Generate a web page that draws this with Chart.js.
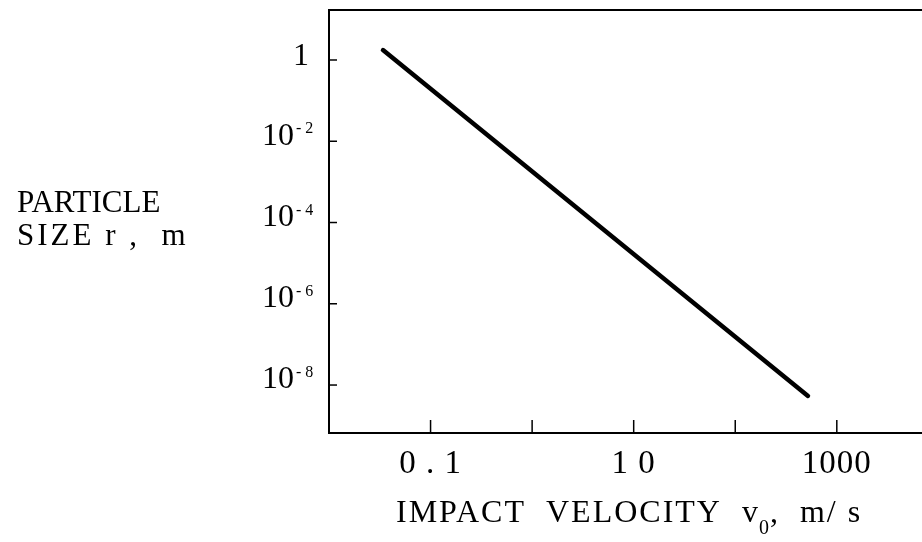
<!DOCTYPE html>
<html>
<head>
<meta charset="utf-8">
<script src="https://cdn.jsdelivr.net/npm/chart.js@4.4.1/dist/chart.umd.min.js"></script>
<style>
  html, body { margin: 0; background: #fff; }
</style>
</head>
<body>
<canvas id="chart" width="922" height="542"></canvas>
<script>
// data (log-log)
const velocity = [0.034, 520];          // m/s
const particleSize = [1.75, 5.4e-9];    // m

const xTicks = [0.1, 1, 10, 100, 1000];
const xTickLabels = ['0 . 1', '', '1 0', '', '1000'];
const yTicks = [1, 1e-2, 1e-4, 1e-6, 1e-8];
const yTickBases = ['1', '10', '10', '10', '10'];
const yTickExps = ['', '- 2', '- 4', '- 6', '- 8'];

const SERIF = '"Liberation Serif", "DejaVu Serif", serif';

// axes, ticks and labels drawn the way the old figure has them (inward ticks, superscripts)
const paperAxes = {
  id: 'paperAxes',
  afterDraw(chart) {
    const { ctx, chartArea: a, scales: { x, y } } = chart;
    ctx.save();
    ctx.strokeStyle = '#000';
    ctx.fillStyle = '#000';
    ctx.lineWidth = 2;
    ctx.beginPath();
    ctx.moveTo(a.right, a.top);
    ctx.lineTo(a.left, a.top);
    ctx.lineTo(a.left, a.bottom);
    ctx.lineTo(a.right, a.bottom);
    ctx.stroke();

    // y ticks
    ctx.lineWidth = 1.5;
    yTicks.forEach((v, i) => {
      const py = y.getPixelForValue(v);
      ctx.beginPath();
      ctx.moveTo(a.left, py);
      ctx.lineTo(a.left + 8, py);
      ctx.stroke();

      ctx.font = '32px ' + SERIF;
      ctx.textBaseline = 'middle';
      ctx.textAlign = 'right';
      if (!yTickExps[i]) {
        ctx.fillText(yTickBases[i], 309, py - 3);
      } else {
        ctx.fillText(yTickBases[i], 294, py - 5);
        ctx.font = '16px ' + SERIF;
        ctx.textAlign = 'left';
        ctx.textBaseline = 'top';
        ctx.fillText(yTickExps[i], 296, py - 20);
      }
    });

    // x ticks
    xTicks.forEach((v, i) => {
      const px = x.getPixelForValue(v);
      ctx.beginPath();
      ctx.moveTo(px, a.bottom);
      ctx.lineTo(px, a.bottom - 13);
      ctx.stroke();
      if (xTickLabels[i]) {
        ctx.font = '33px ' + SERIF;
        ctx.letterSpacing = '1px';
        ctx.textAlign = 'center';
        ctx.textBaseline = 'middle';
        ctx.fillText(xTickLabels[i], px, 464);
        ctx.letterSpacing = '0px';
      }
    });

    // y title
    ctx.font = '31px ' + SERIF;
    ctx.textAlign = 'left';
    ctx.textBaseline = 'alphabetic';
    ctx.fillText('PARTICLE', 17, 212);
    ctx.letterSpacing = '3px';
    ctx.fillText('SIZE r ,  m', 17, 245);

    // x title with subscript
    ctx.font = '32px ' + SERIF;
    ctx.letterSpacing = '2px';
    let tx = 396;
    const base = 522;
    const part1 = 'IMPACT  VELOCITY  v';
    ctx.fillText(part1, tx, base);
    tx += ctx.measureText(part1).width;
    ctx.font = '20px ' + SERIF;
    ctx.letterSpacing = '0px';
    ctx.fillText('0', tx - 1, base + 12);
    tx += ctx.measureText('0').width;
    ctx.font = '32px ' + SERIF;
    ctx.letterSpacing = '2px';
    ctx.fillText(',  m/ s', tx, base);
    ctx.restore();
  }
};

new Chart(document.getElementById('chart'), {
  type: 'scatter',
  data: {
    datasets: [{
      data: velocity.map((v, i) => ({ x: v, y: particleSize[i] })),
      showLine: true,
      borderColor: '#000',
      borderWidth: 4.5,
      borderCapStyle: 'round',
      pointRadius: 0
    }]
  },
  options: {
    responsive: false,
    animation: false,
    layout: { padding: { left: 329, top: 10, right: 0, bottom: 109 } },
    plugins: { legend: { display: false }, tooltip: { enabled: false } },
    scales: {
      x: { type: 'logarithmic', display: false, min: 0.01, max: 6900 },
      y: { type: 'logarithmic', display: false, min: 6.6e-10, max: 17 }
    }
  },
  plugins: [paperAxes]
});
</script>
</body>
</html>
